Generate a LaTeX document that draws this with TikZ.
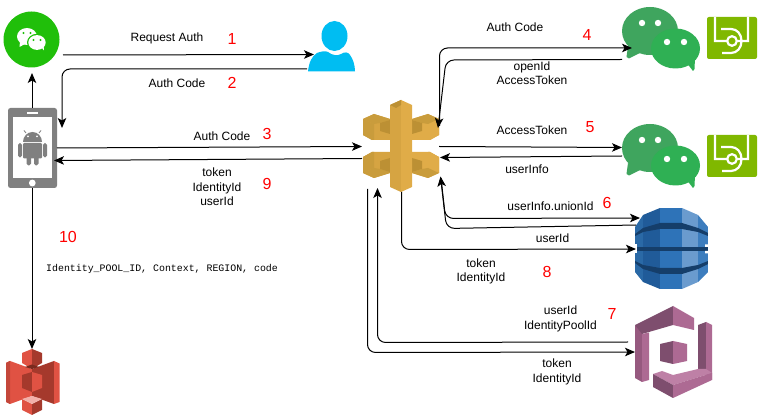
\documentclass[tikz,border=0pt]{standalone}
\usepackage{fontspec}
\setmainfont{Liberation Sans}
\newfontfamily\codefont{Liberation Mono}
\usetikzlibrary{arrows.meta}
\definecolor{wcgreen}{HTML}{20BF0A}
\definecolor{bubA}{HTML}{3FA55E}
\definecolor{bubB}{HTML}{2FB054}
\definecolor{appgreen}{HTML}{80B800}
\definecolor{userblue}{HTML}{00BDF2}
\definecolor{phonegray}{HTML}{808080}
\definecolor{gwA}{HTML}{D6A442}
\definecolor{gwB}{HTML}{E0AC48}
\definecolor{gwC}{HTML}{BC9034}
\definecolor{gwD}{HTML}{C99C3C}
\definecolor{ddA}{HTML}{2A69A6}
\definecolor{ddB}{HTML}{205B99}
\definecolor{ddC}{HTML}{2E73B8}
\definecolor{ddD}{HTML}{6A9BCE}
\definecolor{ddE}{HTML}{3C7DBE}
\definecolor{ddF}{HTML}{153E6A}
\definecolor{cgA}{HTML}{7E4E6E}
\definecolor{cgM}{HTML}{96597F}
\definecolor{cgB}{HTML}{AD6A93}
\definecolor{cgC}{HTML}{BE80A6}
\definecolor{sA}{HTML}{E05243}
\definecolor{sB}{HTML}{A5392C}
\definecolor{sC}{HTML}{C4473A}
\definecolor{sD}{HTML}{7A2A1E}
\definecolor{sE}{HTML}{F2B0A9}
\tikzset{
  x=1pt,y=-1pt,
  flow/.style={draw=black,line width=1pt,-{Stealth[length=10pt,width=8.5pt,inset=2.5pt]},rounded corners=8pt},
  plainlabel/.style={inner sep=0pt,font=\fontsize{12}{14.5}\selectfont,align=center,text=black},
  numlabel/.style={inner sep=0pt,font=\fontsize{16}{18}\selectfont,text=red},
  codelabel/.style={inner sep=0pt,font=\codefont\fontsize{9.9}{12}\selectfont,text=black,anchor=west},
  iconbox/.style={inner sep=0pt,minimum width=#1,draw=none,fill=none},
}
\newcommand{\wcbubbles}[1]{%
  \begin{scope}[shift={(0,#1)}]
    \fill[bubA] (628,46) -- (626.5,57) to[bend right=10] (629,58.5) -- (642,52) -- cycle;
    \fill[bubA] (650,31) ellipse[x radius=28pt,y radius=24pt];
    \fill[bubB] (686,62) -- (693,71) to[bend right=20] (694.5,69) -- (695,58) -- cycle;
    \fill[bubB] (675.5,48.5) ellipse[x radius=24.5pt,y radius=20pt];
    \fill[white] (642,23) circle[radius=3.2pt] (658,23) circle[radius=3.2pt]
                 (667,42) circle[radius=3.2pt] (684,42) circle[radius=3.2pt];
  \end{scope}}
\newcommand{\appicon}[1]{%
  \begin{scope}[shift={(0,#1)}]
    \fill[appgreen,rounded corners=2pt] (707,17) rectangle (757,59);
    \draw[white,line width=2.2pt] (715,17) -- (715,41) -- (727,41)
      (748,17) -- (748,41) -- (737,41)
      (732,41) circle[radius=4.8pt]
      (721,29) -- (731,29) .. controls (737,29) and (741.5,34) .. (741.5,41)
        .. controls (741.5,48) and (737,53) .. (731,53) -- (722,53);
  \end{scope}}
% #1 outer face, #2 top face, #3 front face, #4 notch
\newcommand{\gwblock}[4]{%
  \fill[#3] (363,119) -- (374,114) -- (390,119) -- (390,140) -- (372,140) -- (363,135) -- cycle;
  \fill[#1] (363,119) -- (374,124) -- (374,140) -- (372,140) -- (363,135) -- cycle;
  \fill[#2] (363,119) -- (374,114) -- (390,119) -- (390,120) -- (380,123) -- (374,124) -- cycle;
  \fill[#4] (380,123) -- (390,120) -- (390,134) -- (380,131) -- cycle;}
\begin{document}
\begin{tikzpicture}
\useasboundingbox (0,0) rectangle (758,419);
\fill[white] (0,0) rectangle (758,419);

% ---- WeChat round icon
\node[circle,inner sep=0pt,minimum size=56pt,fill=wcgreen] (wechat) at (31.5,39.5) {};
\fill[white] (20,42) -- (19.5,47) -- (25,44) -- cycle;
\fill[white] (27,36.5) ellipse[x radius=10pt,y radius=8.5pt];
\fill[wcgreen] (37,42.5) ellipse[x radius=10pt,y radius=8.7pt];
\fill[white] (37,42.5) ellipse[x radius=8.7pt,y radius=7.4pt];
\fill[white] (41,47) -- (44,50.5) -- (43.5,45) -- cycle;
\fill[wcgreen] (23.5,33) circle[radius=1.2pt] (30.5,33) circle[radius=1.2pt]
  (33.5,40) circle[radius=1.1pt] (40.5,40) circle[radius=1.1pt];

% ---- Phone
\node[iconbox=49pt,minimum height=80pt,rounded corners=2.5pt,fill=phonegray] (phone) at (32.5,148) {};
\fill[white] (13,117) rectangle (52,178);
\fill[white] (26.5,112) rectangle (38,114.5);
\fill[white] (32.3,183) circle[radius=3.4pt];
\fill[phonegray] (23,142) arc[start angle=180,end angle=0,x radius=9.5pt,y radius=10pt] -- cycle;
\draw[phonegray,line width=.8pt] (26,133) -- (24,130.5) (39,133) -- (41,130.5);
\fill[white] (28,136.5) circle[radius=1pt] (37,136.5) circle[radius=1pt];
\fill[phonegray,rounded corners=1.2pt] (23,143) rectangle (42,158.5);
\fill[phonegray,rounded corners=1.8pt] (18,143) rectangle (22,157.5);
\fill[phonegray,rounded corners=1.8pt] (43,143) rectangle (47,157.5);
\fill[phonegray,rounded corners=1.8pt] (26.5,155) rectangle (31,165.5);
\fill[phonegray,rounded corners=1.8pt] (34,155) rectangle (38.5,165.5);

% ---- User
\node[iconbox=48pt,minimum height=56pt] (user) at (331.5,43) {};
\fill[userblue] (334.5,36) ellipse[x radius=13pt,y radius=15pt];
\fill[userblue] (308,71.5) .. controls (309,62) and (312,56) .. (317,53)
  .. controls (321,51.5) and (325,50.5) .. (328,52)
  .. controls (332,55.5) and (338,56) .. (341,54)
  .. controls (345,51.5) and (348,52) .. (350,55)
  .. controls (353,59) and (355,65) .. (355,71.5) -- cycle;

% ---- API Gateway
\node[iconbox=76pt,minimum height=92pt] (gateway) at (401,146) {};
\gwblock{gwD}{gwD}{gwA}{gwC}
\begin{scope}[shift={(802,0)},xscale=-1]\gwblock{gwB}{gwD}{gwB}{gwC}\end{scope}
\begin{scope}[shift={(0,292)},yscale=-1]\gwblock{gwD}{gwD}{gwA}{gwC}\end{scope}
\begin{scope}[shift={(802,292)},xscale=-1,yscale=-1]\gwblock{gwB}{gwD}{gwB}{gwC}\end{scope}
\fill[gwA] (401,100) -- (390,105) -- (390,187) -- (401,192) -- cycle;
\fill[gwB] (401,100) -- (412,105) -- (412,187) -- (401,192) -- cycle;
\fill[gwC] (401,100) -- (390,105) -- (396,108) -- (401,105) -- cycle;

% ---- WeChat open-platform rows
\node[iconbox=78pt,minimum height=64pt] (wcA) at (661,39) {};
\wcbubbles{0}
\node[iconbox=50pt,minimum height=42pt] (appA) at (732,38) {};
\appicon{0}
\node[iconbox=78pt,minimum height=64pt] (wcB) at (661,156) {};
\wcbubbles{117}
\node[iconbox=50pt,minimum height=42pt] (appB) at (732,155) {};
\appicon{118}

% ---- DynamoDB
\node[iconbox=73pt,minimum height=81pt] (dynamo) at (671.5,248.5) {};
\begin{scope}
  \clip (660,208) -- (682,208) -- (698,215) -- (708,227) -- (708,272) -- (698,282)
    -- (682,289) -- (660,289) -- (643,282) -- (635,272) -- (635,227) -- (643,215) -- cycle;
  \fill[ddA] (635,208) rectangle (643,289);
  \fill[ddB] (643,208) rectangle (660,289);
  \fill[ddC] (660,208) rectangle (682,289);
  \fill[ddD] (682,208) rectangle (698,289);
  \fill[ddE] (698,208) rectangle (708,289);
  \fill[ddF] (635,234) -- (643,228) -- (660,223) -- (682,223) -- (698,228) -- (708,233)
    -- (708,236) -- (698,232) -- (682,229) -- (660,229) -- (643,232) -- (635,236) -- cycle;
  \fill[ddF] (635,247) rectangle (708,251);
  \fill[ddF] (635,263) -- (643,269) -- (660,274) -- (682,274) -- (698,269) -- (708,264)
    -- (708,261) -- (698,265) -- (682,268) -- (660,268) -- (643,265) -- (635,261) -- cycle;
  \fill[white] (634,244.5) rectangle (636.5,253.5);
  \fill[white] (705,244.5) rectangle (709,247) (705,251) rectangle (709,253.5);
\end{scope}

% ---- Cognito
\node[iconbox=77pt,minimum height=92pt] (cognito) at (673.5,352) {};
\fill[cgM] (635,325) -- (642,330) -- (642,382) -- (635,378) -- cycle;
\fill[cgA] (635,325) -- (673,306) -- (673,325) -- (642,334) -- cycle;
\fill[cgB] (673,306) -- (694,318) -- (694,330) -- (673,325) -- cycle;
\fill[cgB] (642,334) -- (649,332.5) -- (649,380) -- (642,382) -- cycle;
\fill[cgA] (698,325) -- (706,322) -- (706,370) -- (698,370) -- cycle;
\fill[cgB] (706,322) -- (712,325) -- (712,380) -- (706,380) -- cycle;
\fill[cgC] (653,374) -- (662,371) -- (673,375) -- (698,369) -- (706,369) -- (712,373) -- (673,385) -- cycle;
\fill[cgA] (653,374) -- (673,385) -- (673,398) -- (653,387) -- cycle;
\fill[cgB] (673,385) -- (712,373) -- (712,380) -- (673,398) -- cycle;
\fill[cgA] (660,344) -- (673,341) -- (673,364) -- (660,361) -- cycle;
\fill[cgB] (673,341) -- (687,344) -- (687,361) -- (673,364) -- cycle;

% ---- S3
\node[iconbox=54pt,minimum height=66pt] (storage) at (32,382) {};
\fill[sA] (6,363) -- (10,361) -- (32,369) -- (32,396) -- (10,404) -- (6,402) -- cycle;
\fill[sC] (6,363) -- (10,361) -- (10,404) -- (6,402) -- cycle;
\fill[sB] (54,361) -- (32,369) -- (32,396) -- (54,404) -- cycle;
\fill[sA] (54,361) -- (59.5,363.5) -- (59.5,402) -- (54,404) -- cycle;
\fill[sB] (22,375) -- (32,372) -- (32,392) -- (22,388) -- cycle;
\fill[sA] (32,372) -- (42,375) -- (42,388) -- (32,392) -- cycle;
\fill[sA] (22,353) -- (32,349) -- (32,369) -- (22,363) -- cycle;
\fill[sB] (32,349) -- (42,353) -- (42,363) -- (32,369) -- cycle;
\fill[sD] (25,367) -- (32,369) -- (39,367) -- (32,364.5) -- cycle;
\fill[sA] (22,399) -- (32,404) -- (32,415) -- (22,410) -- cycle;
\fill[sB] (32,404) -- (42,399) -- (42,410) -- (32,415) -- cycle;
\fill[sE] (22,399) -- (32,396) -- (42,399) -- (32,404) -- cycle;

% ---- Connector ends
\coordinate (p1a) at (63,55);    \coordinate (p1b) at (314,54.5);
\coordinate (p2a) at (307,69);   \coordinate (p2m) at (62,69);   \coordinate (p2b) at (62,128);
\coordinate (pUa) at (32,108);   \coordinate (pUb) at (32,73);
\coordinate (pDa) at (32,188);   \coordinate (pDb) at (32,349);
\coordinate (p3a) at (57,148);   \coordinate (p3b) at (362,146.5);
\coordinate (p9a) at (362,158.5);\coordinate (p9b) at (54,160.5);
\coordinate (p4a) at (439.5,126);\coordinate (p4m) at (439.5,48);\coordinate (p4b) at (632,48);
\coordinate (q4a) at (622,59.5); \coordinate (q4m) at (446,60);  \coordinate (q4b) at (438,128);
\coordinate (p5a) at (439,146.5);\coordinate (p5b) at (622,147.5);
\coordinate (q5a) at (622,156);  \coordinate (q5b) at (440,157.5);
\coordinate (p6a) at (441,178);  \coordinate (p6m) at (445.5,218.5);\coordinate (p6b) at (640,218);
\coordinate (q6a) at (636,225);  \coordinate (q6m) at (446.5,228.5);\coordinate (q6b) at (440.5,176.5);
\coordinate (p8a) at (401.5,192);\coordinate (p8m) at (401.5,249.5);\coordinate (p8b) at (636,249);
\coordinate (p7a) at (628,342);  \coordinate (p7m) at (377.5,342.5);\coordinate (p7b) at (377.5,188);
\coordinate (q7a) at (367.5,189);\coordinate (q7m) at (367.5,352.5);\coordinate (q7b) at (635,352);

% ---- Connectors
\draw[flow] (p1a) -- (p1b);
\draw[flow] (p2a) -- (p2m) -- (p2b);
\draw[flow] (pUa) -- (pUb);
\draw[flow] (pDa) -- (pDb);
\draw[flow] (p3a) -- (p3b);
\draw[flow] (p9a) -- (p9b);
\draw[flow] (p4a) -- (p4m) -- (p4b);
\draw[flow] (q4a) -- (q4m) -- (q4b);
\draw[flow] (p5a) -- (p5b);
\draw[flow] (q5a) -- (q5b);
\draw[flow] (p6a) -- (p6m) -- (p6b);
\draw[flow] (q6a) -- (q6m) -- (q6b);
\draw[flow] (p8a) -- (p8m) -- (p8b);
\draw[flow] (p7a) -- (p7m) -- (p7b);
\draw[flow] (q7a) -- (q7m) -- (q7b);

% ---- Labels
\node[plainlabel] (t1) at (167,38.5) {Request Auth};
\node[plainlabel] (t2) at (177,83.5) {Auth Code};
\node[plainlabel] (t3) at (222,136.5) {Auth Code};
\node[plainlabel] (t9) at (217,187) {token\\IdentityId\\userId};
\node[plainlabel] (t4) at (515,27.5) {Auth Code};
\node[plainlabel] (t4b) at (532,73) {openId\\AccessToken};
\node[plainlabel] (t5) at (532,130) {AccessToken};
\node[plainlabel] (t5b) at (527,169) {userInfo};
\node[plainlabel] (t6) at (550.5,206.5) {userInfo.unionId};
\node[plainlabel] (t6b) at (552.5,238) {userId};
\node[plainlabel] (t8) at (481,271.5) {token\\IdentityId};
\node[plainlabel] (t7) at (560.5,319) {userId\\IdentityPoolId};
\node[plainlabel] (t7b) at (557,372) {token\\IdentityId};
\node[codelabel] (t10) at (46,268.5) {Identity\_POOL\_ID, Context, REGION, code};

\node[numlabel] (n1) at (232,39) {1};
\node[numlabel] (n2) at (232,83) {2};
\node[numlabel] (n3) at (267,134) {3};
\node[numlabel] (n4) at (587,35) {4};
\node[numlabel] (n5) at (590,127) {5};
\node[numlabel] (n6) at (607,202.5) {6};
\node[numlabel] (n7) at (612,314) {7};
\node[numlabel] (n8) at (547,272) {8};
\node[numlabel] (n9) at (267,184) {9};
\node[numlabel] (n10) at (68,237) {10};
\end{tikzpicture}
\end{document}
